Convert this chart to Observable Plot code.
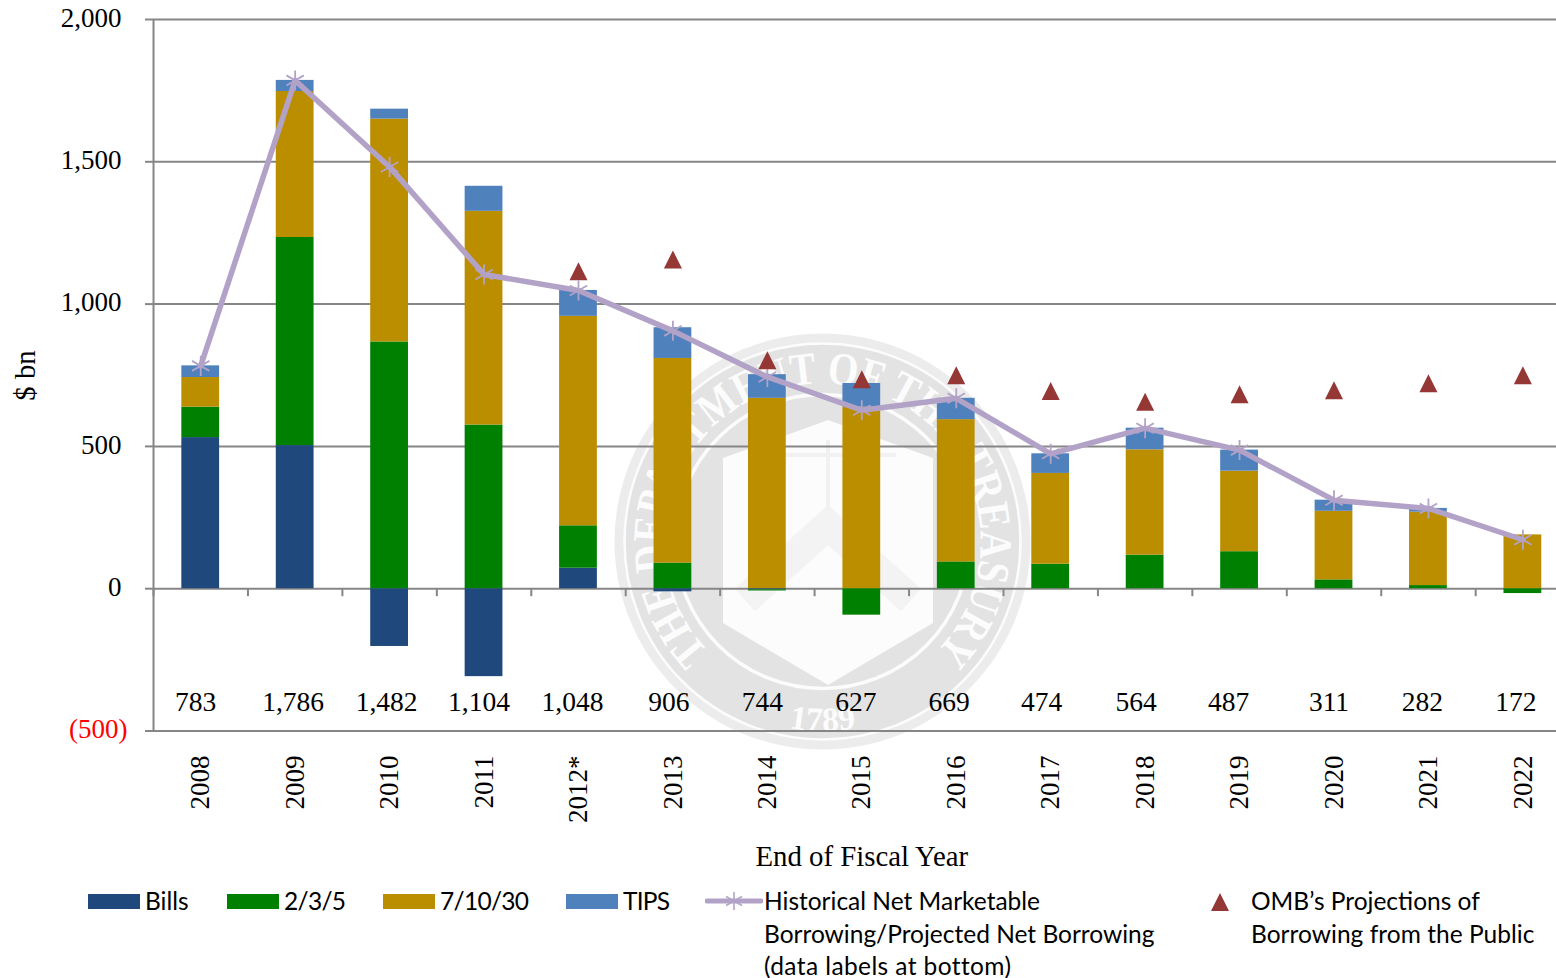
<!DOCTYPE html>
<html>
<head>
<meta charset="utf-8">
<script src="https://cdn.jsdelivr.net/npm/d3@7"></script>
<script src="https://cdn.jsdelivr.net/npm/@observablehq/plot@0.6"></script>
<style>
html,body{margin:0;padding:0;background:#fff;width:1556px;height:978px;overflow:hidden}
#wrap{position:relative;width:1556px;height:978px;overflow:hidden}
#seal{position:absolute;left:0;top:0}
#chart{position:absolute;left:0;top:0}
#chart svg{background:transparent}
.lg{position:absolute;font-family:Lato,"Open Sans",sans-serif;font-size:24.5px;line-height:32.5px;color:#000;white-space:nowrap}
.sw{position:absolute;height:15px;width:52px}
</style>
</head>
<body>
<div id="wrap">
<svg id="seal" width="1556" height="978"></svg>
<div id="chart"></div>
<div class="sw" style="left:88px;top:894px;background:#1F497D"></div>
<div class="lg" style="left:145px;top:885px">Bills</div>
<div class="sw" style="left:227px;top:894px;background:#008000"></div>
<div class="lg" style="left:284px;top:885px;letter-spacing:-.7px">2/3/5</div>
<div class="sw" style="left:383px;top:894px;background:#BB8E00"></div>
<div class="lg" style="left:440px;top:885px;letter-spacing:-.7px">7/10/30</div>
<div class="sw" style="left:566px;top:894px;background:#4F81BD"></div>
<div class="lg" style="left:623px;top:885px;letter-spacing:-.8px">TIPS</div>
<svg style="position:absolute;left:705px;top:889px" width="58" height="24"><line x1="2" x2="56" y1="12" y2="12" stroke="#B3A2C7" stroke-width="5" stroke-linecap="round"/><g stroke="#B3A2C7" stroke-width="1.6"><line x1="29" x2="29" y1="3" y2="21"/><line x1="21" x2="37" y1="7.5" y2="16.5"/><line x1="21" x2="37" y1="16.5" y2="7.5"/></g></svg>
<div class="lg" style="left:764px;top:885px">Historical Net Marketable<br>Borrowing/Projected Net Borrowing<br><span style="letter-spacing:.4px">(data labels at bottom)</span></div>
<svg style="position:absolute;left:1210px;top:892px" width="20" height="20"><path d="M10,1L19,19L1,19Z" fill="#953735"/></svg>
<div class="lg" style="left:1251px;top:885px">OMB’s Projections of<br><span style="letter-spacing:.03px">Borrowing from the Public</span></div>
</div>
<script>
const years = ["2008","2009","2010","2011","2012*","2013","2014","2015","2016","2017","2018","2019","2020","2021","2022"];
const bills = [531,503,-203,-309,72,-11,-4,0,0,0,0,0,0,0,0];
const notes235 = [107,731,867,575,149,90,-4,-93,94,86,118,130,31,11,-17];
const notes71030 = [104,513,783,751,736,719,669,638,500,319,370,283,241,258,189];
const tips = [41,39,35,88,91,108,83,83,75,69,76,74,39,13,0];
const netBorrowing = [783,1786,1482,1104,1048,906,744,627,669,474,564,487,311,282,172];
const ombYears = ["2012*","2013","2014","2015","2016","2017","2018","2019","2020","2021","2022"];
const ombProjection = [1115,1157,803,736,750,695,657,683,697,722,750];
const gridValues = [0,500,1000,1500,2000];
const seriesNames = ["Bills","2/3/5","7/10/30","TIPS"];
const seriesColors = ["#1F497D","#008000","#BB8E00","#4F81BD"];
const labelDx = [-5,-2,-3,-5,-6,-4,-5,-6,-7,-9,-9,-11,-5,-6,-7];

const serif = "'Liberation Serif', serif";
const gridColor = "#868686";
const stacked = [bills,notes235,notes71030,tips].flatMap((vals,k)=>vals.map((v,i)=>({year:years[i],series:seriesNames[k],value:v})));
const lineData = years.map((y,i)=>({year:y,value:netBorrowing[i]}));
const ombData = ombYears.map((y,i)=>({year:y,value:ombProjection[i]}));
const tri = {draw(c,size){const s=Math.sqrt(size/Math.PI);c.moveTo(0,-s);c.lineTo(s,s);c.lineTo(-s,s);c.closePath();}};

const plot = Plot.plot({
  width:1556, height:880,
  marginTop:19, marginBottom:149, marginLeft:153, marginRight:0,
  style:{fontFamily:serif,fontSize:"27px",color:"#000",background:"transparent",overflow:"hidden"},
  x:{type:"band",domain:years,range:[153,1569.6],paddingInner:0.6,paddingOuter:0.3,align:0.5,round:false},
  y:{domain:[-500,2000],range:[730.5,19]},
  color:{domain:seriesNames,range:seriesColors},
  marks:[
    Plot.ruleY([...gridValues,-500],{stroke:gridColor,strokeWidth:2,strokeOpacity:1}),
    Plot.barY(stacked,{x:"year",y:"value",fill:"series",order:seriesNames}),
    Plot.ruleX([years[0]],{stroke:gridColor,strokeWidth:2,dx:-47.2,y1:-500,y2:2000}),
    Plot.ruleX(years,{x:d=>d,dx:-47.2,y1:0,y2:-28,stroke:gridColor,strokeWidth:2}),
    Plot.axisY({ticks:[...gridValues,-500],text:null,tickSize:8,stroke:gridColor,strokeWidth:2,strokeOpacity:1,label:null}),
    Plot.axisY({ticks:gridValues,tickFormat:d3.format(",.0f"),tickSize:0,tickPadding:32,dy:-1.5,label:null}),
    Plot.axisY({ticks:[-500],tickFormat:d=>"("+Math.abs(d)+")",tickSize:0,tickPadding:26,dy:-2,fill:"#ff0000",label:null}),
    Plot.axisY({ticks:[],text:null,tickSize:0,fontSize:28.8,label:"$ bn",labelAnchor:"center",labelOffset:139,labelArrow:"none"}),
    Plot.line(lineData,{x:"year",y:"value",stroke:"#B3A2C7",strokeWidth:5.5,curve:"linear"}),
    Plot.dot(lineData,{x:"year",y:"value",symbol:"asterisk",r:9.5,stroke:"#B3A2C7",strokeWidth:1.8}),
    Plot.dot(ombData,{x:"year",y:"value",symbol:tri,r:9,fill:"#953735",stroke:"none"}),
    ...lineData.map((d,i)=>Plot.text([d],{x:"year",y:()=>-398,text:e=>d3.format(",")(e.value),dx:labelDx[i],fontSize:27.5,fill:"#000"})),
    Plot.axisX({tickSize:0,tickRotate:-90,tickPadding:24,label:null}),
    Plot.text(["End of Fiscal Year"],{x:()=>"2015",y:()=>-500,dy:125.5,fontSize:28.8,fill:"#000"})
  ]
});
document.getElementById("chart").appendChild(plot);

// Faint Treasury seal watermark behind the chart
const s = d3.select("#seal");
const cx=822.5, cy=541.5;
const sg="#e3e3e3", sw="#fcfcfc";
const g=s.append("g");
g.append("circle").attr("cx",cx).attr("cy",cy).attr("r",208).attr("fill","#ececec");
g.append("circle").attr("cx",cx).attr("cy",cy).attr("r",198).attr("fill",sg).attr("stroke",sw).attr("stroke-width",2.5);
g.append("circle").attr("cx",cx).attr("cy",cy).attr("r",147).attr("fill",sg).attr("stroke",sw).attr("stroke-width",3.5);
g.append("path").attr("d","M828,420L933,458L933,623L828,685L723,623L723,458Z").attr("fill",sw);
g.append("path").attr("d","M745,600L828,525L911,600").attr("fill","none").attr("stroke","#f3f3f3").attr("stroke-width",30);
g.append("path").attr("d","M760,455H896M828,440V510").attr("fill","none").attr("stroke","#f1f1f1").attr("stroke-width",4);
const defs=s.append("defs");
defs.append("path").attr("id","arcTop").attr("d",`M${cx},${cy+158}A158,158 0 1 1 ${cx+0.01},${cy+158}`);
defs.append("path").attr("id","arcBot").attr("d",`M${cx-80},${cy+172}A190,190 0 0 0 ${cx+80},${cy+172}`);
g.append("text").attr("font-family","'Liberation Serif',serif").attr("font-weight","bold").attr("font-size",46).attr("fill",sw)
 .append("textPath").attr("href","#arcTop").attr("startOffset","50%").attr("text-anchor","middle")
 .attr("textLength",740).attr("lengthAdjust","spacingAndGlyphs").text("THE DEPARTMENT OF THE TREASURY");
g.append("text").attr("font-family","'Liberation Serif',serif").attr("font-weight","bold").attr("font-size",34).attr("fill",sw)
 .append("textPath").attr("href","#arcBot").attr("startOffset","50%").attr("text-anchor","middle").text("1789");
</script>
</body>
</html>
